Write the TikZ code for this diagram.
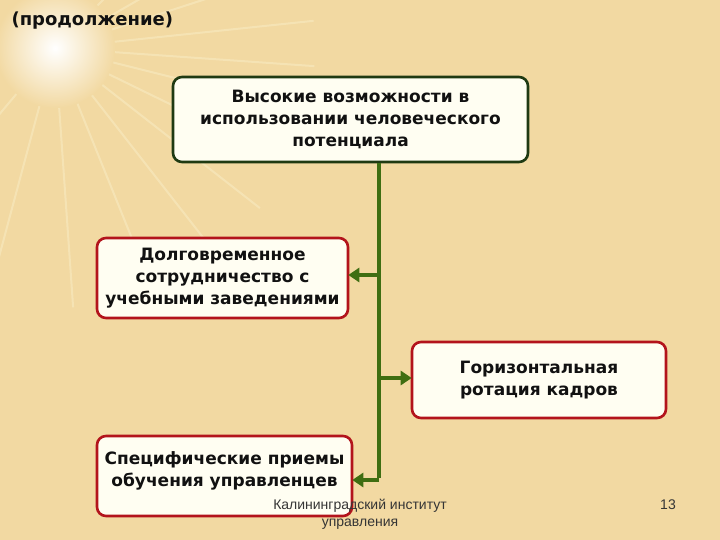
\documentclass[tikz,border=0pt]{standalone}
\usepackage{fontspec}
\setmainfont{DejaVu Sans}
\newfontfamily\footfont{Liberation Sans}
\usetikzlibrary{arrows.meta,positioning,calc}
\definecolor{bg}{HTML}{F2D9A2}
\definecolor{glow}{HTML}{FFFBE0}
\definecolor{boxfill}{HTML}{FFFEF2}
\definecolor{grn}{HTML}{3F6E12}
\definecolor{dgrn}{HTML}{1F3A12}
\definecolor{rd}{HTML}{B3141C}
\definecolor{ink}{HTML}{111111}
\tikzset{
  >={Triangle[length=11pt,width=14pt]},
  box/.style={draw=rd,line width=2.6pt,rounded corners=9pt,fill=boxfill,align=center,
    font=\fontsize{17}{22}\bfseries\selectfont,text=ink,inner sep=2pt},
  topbox/.style={box,draw=dgrn},
  trunk/.style={draw=grn,line width=3.6pt},
  arr/.style={->,draw=grn,line width=3.6pt,shorten >=-1pt},
  foot/.style={font=\footfont\fontsize{14}{17}\selectfont,text=ink!85,align=center},
}
\begin{document}
\begin{tikzpicture}[x=1pt,y=-1pt]
% background
\fill[bg] (0,0) rectangle (720,540);
\useasboundingbox (0,0) rectangle (720,540);
\foreach \a in {-80,-62,-45,-30,-18,-6,4,14,26,38,52,68,86,105,130,165,200,240}{
  \draw[glow,opacity=0.3,line width=2pt] (55,48) -- ++(\a:260);
}
\shade[inner color=white,outer color=bg] (55,48) circle (60);
\node[anchor=west,font=\fontsize{18}{20}\bfseries\selectfont,text=ink] (title) at (8,21) {(продолжение)};
% boxes
\node[topbox,minimum width=355pt,minimum height=85pt] (top) at (350.5,119.5)
  {Высокие возможности в\\использовании человеческого\\потенциала};
\node[box,minimum width=251pt,minimum height=80pt] (coop) at (222.5,278)
  {Долговременное\\сотрудничество с\\учебными заведениями};
\node[box,minimum width=254pt,minimum height=76pt] (rot) at (539,380)
  {Горизонтальная\\ротация кадров};
\node[box,minimum width=255pt,minimum height=80pt] (train) at (224.5,476)
  {Специфические приемы\\обучения управленцев\\[-8pt]};
% connectors
\coordinate (t1) at (379,275);
\coordinate (t2) at (379,378);
\coordinate (t3) at (379,480);
\draw[trunk] (top.south -| t1) -- ([yshift=1.8pt]t3);
\draw[arr] (t1) -- (t1 -| coop.east);
\draw[arr] (t2) -- (t2 -| rot.west);
\draw[arr] (t3) -- (t3 -| train.east);
% footer
\node[foot] (inst) at (360,514) {Калининградский институт\\управления};
\node[foot] (num) at (668,505) {13};
\end{tikzpicture}
\end{document}
